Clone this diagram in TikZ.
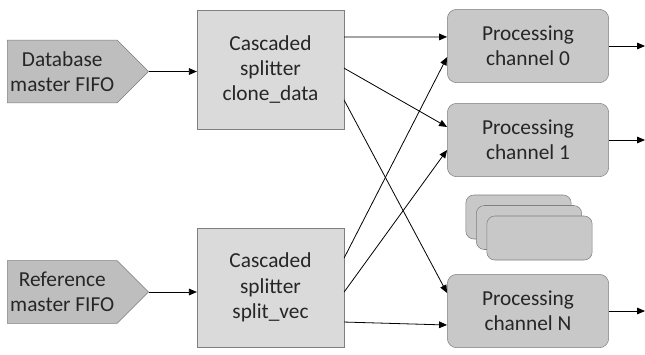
\documentclass[tikz,border=0pt]{standalone}
\usepackage{fontspec}
\setmainfont{Carlito}
\usepackage{tikz}
\usetikzlibrary{shapes.symbols, arrows.meta}
\usetikzlibrary{positioning}
\definecolor{fifogray}{HTML}{BEBEBE}
\definecolor{splitgray}{HTML}{DADADA}
\definecolor{changray}{HTML}{C8C8C8}
\definecolor{edgegray}{HTML}{7F7F7F}
\tikzstyle{fifo} = [signal, signal to=east, signal pointer angle=90, draw=edgegray, fill=fifogray, align=center, minimum width=106pt, minimum height=47pt, inner sep=2pt, anchor=west]
\tikzstyle{splitter} = [rectangle, draw=edgegray, fill=splitgray, align=center, minimum width=110pt, minimum height=89pt]
\tikzstyle{channel} = [rectangle, rounded corners=7pt, draw=edgegray, fill=changray, align=center, minimum width=121pt, minimum height=55pt]
\tikzstyle{ghost} = [rectangle, rounded corners=6pt, draw=edgegray, fill=changray, minimum width=79pt, minimum height=33pt]
\tikzstyle{data_link} = [semithick, -{Triangle[length=6pt, width=5pt]}]

\begin{document}
\begin{tikzpicture}[x=0.75pt, y=-0.75pt, font=\fontsize{16}{19}\selectfont, text=black!85]

    \useasboundingbox (0, 0) rectangle (645, 354);

    % inputs
    \node (dbfifo) [fifo] at (7, 71.5) {Database\\master FIFO};
    \node (reffifo) [fifo] at (7, 292) {Reference\\master FIFO};

    % splitters
    \node (clone) [splitter] at (270.5, 69.5) {Cascaded\\splitter\\clone\_data};
    \node (splitvec) [splitter] at (270.5, 287.5) {Cascaded\\splitter\\split\_vec};

    % processing channels
    \node (chan0) [channel] at (528, 46) {Processing\\channel 0};
    \node (chan1) [channel] at (528, 140) {Processing\\channel 1};
    \node (chanN) [channel] at (528, 311) {Processing\\channel N};

    \node (stack1) [ghost] at (518.5, 217) {};
    \node (stack2) [ghost] at (529, 227.5) {};
    \node (stack3) [ghost] at (539.5, 238) {};

    \coordinate (out0) at (645, 46);
    \coordinate (out1) at (645, 140);
    \coordinate (outN) at (645, 311);

    \draw [data_link] (dbfifo.east) -- (dbfifo.east -| clone.west);
    \draw [data_link] (reffifo.east) -- (reffifo.east -| splitvec.west);

    \draw [data_link] ([yshift=24.4pt]clone.east) -- ([yshift=6.8pt]chan0.west);
    \draw [data_link] ([yshift=1pt]clone.east) -- ([yshift=9.8pt]chan1.west);
    \draw [data_link] ([yshift=-22.9pt]clone.east) -- ([yshift=13.5pt]chanN.west);

    \draw [data_link] ([yshift=22.1pt]splitvec.east) -- ([yshift=-8.3pt]chan0.west);
    \draw [data_link] ([yshift=-3.4pt]splitvec.east) -- ([yshift=-7.5pt]chan1.west);
    \draw [data_link] ([yshift=-25.9pt]splitvec.east) -- ([yshift=-10.5pt]chanN.west);

    \draw [data_link] (chan0.east) -- (out0);
    \draw [data_link] (chan1.east) -- (out1);
    \draw [data_link] (chanN.east) -- (outN);

\end{tikzpicture}
\end{document}
